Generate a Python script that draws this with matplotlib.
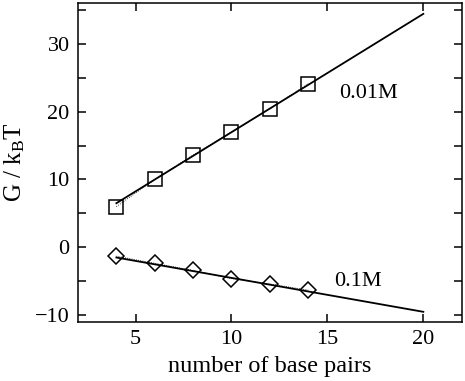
import matplotlib
matplotlib.use("Agg")
import matplotlib.pyplot as plt
from matplotlib.ticker import MultipleLocator

# data
n_bp = [4, 6, 8, 10, 12, 14]
g_001 = [6.0, 10.0, 13.6, 17.0, 20.4, 24.1]
g_01 = [-1.3, -2.35, -3.4, -4.6, -5.4, -6.3]

fit_x = [4, 20]
fit_001 = [6.5, 34.4]
fit_01 = [-1.5, -9.5]

plt.rcParams['font.family'] = ['Liberation Serif', 'DejaVu Serif']
plt.rcParams['mathtext.fontset'] = 'custom'
plt.rcParams['mathtext.rm'] = 'Liberation Serif'
plt.rcParams['mathtext.it'] = 'Liberation Serif:italic'

fig = plt.figure(figsize=(4.65, 3.81), dpi=100)
ax = fig.add_axes([78 / 465, 1 - 322 / 381, (461.7 - 78) / 465, (322 - 3) / 381])

# fitted lines
ax.plot(fit_x, fit_001, color='black', lw=1.3)
ax.plot(fit_x, fit_01, color='black', lw=1.3)
# faint dotted line through the points
ax.plot(n_bp, g_001, color='black', lw=0.6, ls=':')
ax.plot(n_bp, g_01, color='black', lw=0.6, ls=':')

ax.plot(n_bp, g_001, ls='none', marker='s', ms=10, mfc='none', mec='black', mew=1.1)
ax.plot(n_bp, g_01, ls='none', marker='D', ms=7.8, mfc='none', mec='black', mew=1.1)

ax.text(15.6, 22.7, '0.01M', fontsize=16, va='center', ha='left')
ax.text(15.35, -5.05, '0.1M', fontsize=16, va='center', ha='left')

ax.set_xlim(2, 22)
ax.set_ylim(-11, 36)
ax.xaxis.set_major_locator(MultipleLocator(5))
ax.yaxis.set_major_locator(MultipleLocator(10))
ax.yaxis.set_minor_locator(MultipleLocator(5))
ax.tick_params(which='both', direction='in', top=True, right=True, labelsize=16, width=1.1)
ax.tick_params(which='major', length=6, pad=6)
ax.tick_params(which='minor', length=6)
for s in ax.spines.values():
    s.set_linewidth(1.1)

ax.set_xlabel('number of base pairs', fontsize=17.5, labelpad=5)
ax.set_ylabel(r'G / k$_{\mathrm{B}}$T', fontsize=18)
ax.yaxis.set_label_coords((27 - 78) / 383.7, 0.5)

fig.savefig('out.png', dpi=100)
